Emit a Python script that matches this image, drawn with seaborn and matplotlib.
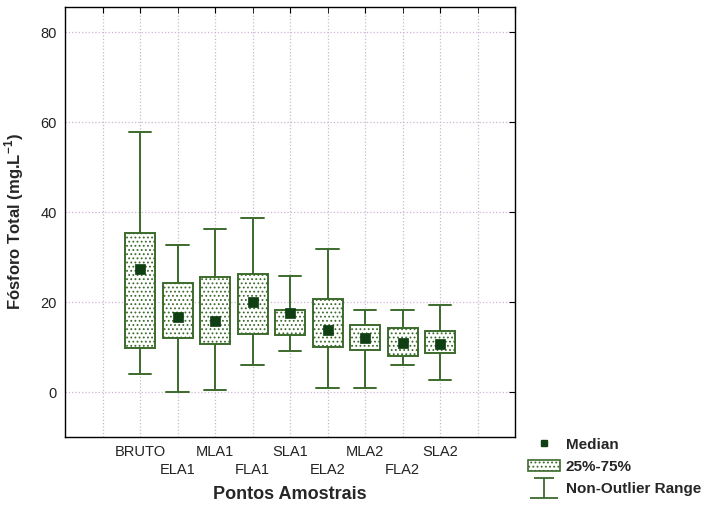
import pandas as pd
import numpy as np
import seaborn as sns
import matplotlib.pyplot as plt
from matplotlib.lines import Line2D
from matplotlib.patches import Patch
from matplotlib.path import Path

# resumo: min, q1, mediana, q3, max
pontos = ['BRUTO', 'ELA1', 'MLA1', 'FLA1', 'SLA1', 'ELA2', 'MLA2', 'FLA2', 'SLA2']
minimo = [4.1, 0.1, 0.4, 6.1, 9.1, 1.0, 1.0, 6.1, 2.7]
q1 = [9.7, 12.1, 10.7, 13.0, 12.7, 10.0, 9.4, 8.1, 8.7]
mediana = [27.4, 16.7, 15.7, 20.0, 17.6, 13.7, 12.1, 11.0, 10.7]
q3 = [35.3, 24.3, 25.6, 26.3, 18.3, 20.6, 15.0, 14.3, 13.6]
maximo = [57.9, 32.7, 36.3, 38.6, 25.7, 31.7, 18.3, 18.3, 19.3]

verde = '#3c6a2c'
verde_esc = '#0f3f12'

rows = []
for i, p in enumerate(pontos):
    for v in (minimo[i], q1[i], mediana[i], q3[i], maximo[i]):
        rows.append({'ponto': p, 'valor': v})
df = pd.DataFrame(rows)

sns.set_style('white')
plt.rcParams['font.family'] = ['Liberation Sans', 'DejaVu Sans']
plt.rcParams['mathtext.fontset'] = 'custom'
plt.rcParams['mathtext.bf'] = 'Liberation Sans:bold'
plt.rcParams['hatch.linewidth'] = 0.8

fig = plt.figure(figsize=(7.08, 5.16), dpi=100)
ax = fig.add_axes([65 / 708, 79 / 516, 450 / 708, 430 / 516])

sns.boxplot(data=df, x='ponto', y='valor', order=pontos, whis=(0, 100), width=0.8,
            color='white', linecolor=verde, linewidth=1.4,
            medianprops={'visible': False}, capwidths=0.59, ax=ax)
for patch in ax.patches:
    patch.set_hatch('....')
    patch.set_edgecolor(verde)

sns.pointplot(x=pontos, y=mediana, order=pontos, linestyle='none', marker='s',
              markersize=6.5, markeredgewidth=0.5, color=verde_esc, errorbar=None, ax=ax)

ax.set_xlim(-2, 10)
ax.set_ylim(-10, 85.6)
ax.set_yticks([0, 20, 40, 60, 80])

# rotulos alternados em duas linhas
topo = [-1] + list(range(0, 9, 2)) + [10]
baixo = list(range(1, 10, 2))
ax.set_xticks(topo)
ax.set_xticklabels([''] + pontos[0::2] + [''])
ax.set_xticks(baixo, minor=True)
ax.set_xticklabels(pontos[1::2] + [''], minor=True)
ax.tick_params(which='both', direction='in', length=4, top=True, right=True, labelsize=10.5,
               colors='black', labelcolor='#222222', pad=6)
ax.tick_params(axis='x', which='minor', pad=19)
ax.grid(True, which='both', linestyle=':', color='#cdb6d2', linewidth=0.9)
ax.set_axisbelow(True)
for s in ax.spines.values():
    s.set_color('black')
    s.set_linewidth(1.0)

ax.set_xlabel('Pontos Amostrais', fontsize=13, fontweight='bold', labelpad=6)
ax.set_ylabel('Fósforo Total (mg.L$^{\\mathbf{-1}}$)', fontsize=12, fontweight='bold', labelpad=10)

whisk = Path([(-1, 1), (1, 1), (0, 1), (0, -1), (-1.4, -1), (1.4, -1)],
             [Path.MOVETO, Path.LINETO, Path.MOVETO, Path.LINETO, Path.MOVETO, Path.LINETO])
handles = [
    Line2D([], [], marker='s', linestyle='none', color=verde_esc, markersize=5),
    Patch(facecolor='white', edgecolor=verde, hatch='....', linewidth=1.2),
    Line2D([], [], marker=whisk, linestyle='none', color=verde, markerfacecolor='none',
           markersize=20, markeredgewidth=1.3),
]
fig.legend(handles, ['Median', '25%-75%', 'Non-Outlier Range'], loc='upper left',
           bbox_to_anchor=(520 / 708, 1 - 430 / 516), frameon=False,
           prop={'weight': 'bold', 'size': 11}, handlelength=2.1, handletextpad=0.4,
           labelspacing=0.55, borderpad=0)

plt.savefig('out.png', dpi=100)
